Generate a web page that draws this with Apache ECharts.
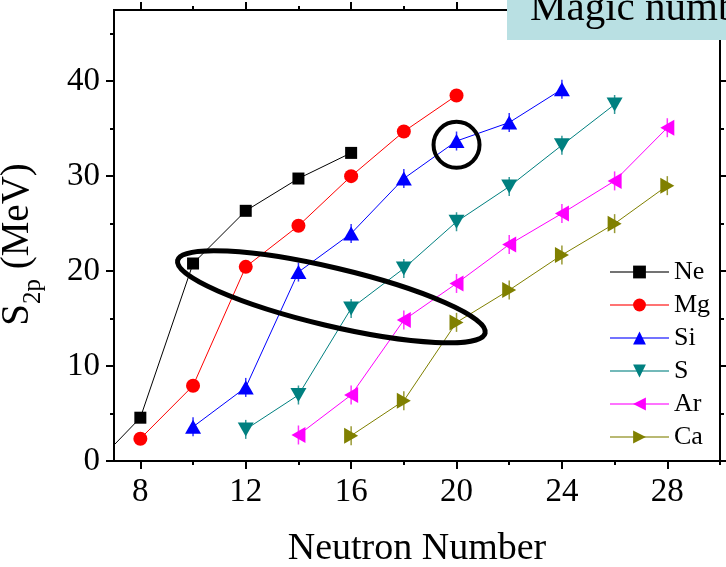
<!DOCTYPE html>
<html>
<head>
<meta charset="utf-8">
<script src="https://cdn.jsdelivr.net/npm/echarts@6/dist/echarts.min.js"></script>
<style>
  html, body { margin: 0; padding: 0; background: #fff; }
  #chart { width: 726px; height: 567px; }
</style>
</head>
<body>
<div id="chart"></div>
<script>
// Two-proton separation energies along isotonic chains
const neN  = [6, 8, 10, 12, 14, 16];
const neS2p = [-1.2, 4.56, 20.8, 26.35, 29.75, 32.45];

const mgN  = [8, 10, 12, 14, 16, 18, 20];
const mgS2p = [2.35, 7.93, 20.45, 24.77, 30.0, 34.7, 38.5];

const siN  = [10, 12, 14, 16, 18, 20, 22, 24];
const siS2p = [3.6, 7.75, 19.9, 23.96, 29.75, 33.7, 35.65, 39.15];

const sN   = [12, 14, 16, 18, 20, 22, 24, 26];
const sS2p = [3.33, 6.95, 16.07, 20.28, 25.2, 28.9, 33.26, 37.55];

const arN  = [14, 16, 18, 20, 22, 24, 26, 28];
const arS2p = [2.74, 6.95, 14.84, 18.7, 22.8, 26.07, 29.5, 35.1];

const caN  = [16, 18, 20, 22, 24, 26, 28];
const caS2p = [2.67, 6.35, 14.6, 18.0, 21.7, 25.0, 29.0];

// Axis ticks
const xMajorTicks = [8, 12, 16, 20, 24, 28];
const xMinorTicks = [10, 14, 18, 22, 26, 30];
const yMajorTicks = [0, 10, 20, 30, 40];
const yMinorTicks = [5, 15, 25, 35, 45];

// Highlight annotations, in (N, S2p) coordinates
const bandCenter = [15.25, 17.3];
const magicPoint = [20, 33.3];

const SERIF = "'Liberation Serif', 'Times New Roman', serif";

function pairs(xs, ys) { return xs.map((x, i) => [x, ys[i]]); }

const chart = echarts.init(document.getElementById('chart'), null, { renderer: 'canvas' });

const frameLine = { color: '#000', width: 2 };

function xAxisDef(position, ticks, len, withLabels) {
  const ax = {
    type: 'value', position: position, min: 7, max: 30,
    axisLine: { show: true, onZero: false, lineStyle: frameLine },
    axisTick: { show: true, inside: false, length: len, customValues: ticks, lineStyle: { color: '#000', width: 2 } },
    axisLabel: { show: withLabels, customValues: ticks, fontSize: 33, fontFamily: SERIF, color: '#000', margin: 15 },
    splitLine: { show: false }
  };
  if (withLabels) {
    ax.name = 'Neutron Number';
    ax.nameLocation = 'middle';
    ax.nameGap = 69;
    ax.nameTextStyle = { fontSize: 38, fontFamily: SERIF, color: '#000' };
  }
  return ax;
}

function yAxisDef(position, ticks, len, withLabels) {
  const ax = {
    type: 'value', position: position, min: 0, max: 47.5,
    axisLine: { show: true, onZero: false, lineStyle: frameLine },
    axisTick: { show: true, inside: false, length: len, customValues: ticks, lineStyle: { color: '#000', width: 2 } },
    axisLabel: { show: withLabels, customValues: ticks, fontSize: 33, fontFamily: SERIF, color: '#000', margin: 14 },
    splitLine: { show: false }
  };
  if (withLabels) {
    ax.name = '{m|S}{sub|2p}{m| (MeV)}';
    ax.nameLocation = 'middle';
    ax.nameGap = 68;
    ax.nameTextStyle = {
      fontFamily: SERIF, color: '#000',
      padding: [0, 18, 0, 0],
      rich: {
        m: { fontSize: 39, fontFamily: SERIF, color: '#000', lineHeight: 39, verticalAlign: 'bottom', padding: [0, 0, 9, 0] },
        sub: { fontSize: 25, fontFamily: SERIF, color: '#000', lineHeight: 25, verticalAlign: 'bottom' }
      }
    };
  }
  return ax;
}

function lineSeries(name, xs, ys, color, symbol, size, rotate) {
  return {
    name: name, type: 'line', data: pairs(xs, ys),
    xAxisIndex: 0, yAxisIndex: 0,
    symbol: symbol, symbolSize: size, symbolRotate: rotate || 0,
    showAllSymbol: true, clip: true,
    lineStyle: { color: color, width: 1 },
    itemStyle: { color: color, borderWidth: 0 },
    emphasis: { disabled: true },
    z: 3
  };
}

// thin vertical bars behind each triangle marker
function barMarks(xs, ys, color) {
  return {
    type: 'scatter', data: pairs(xs, ys), xAxisIndex: 0, yAxisIndex: 0,
    symbol: 'rect', symbolSize: [1.5, 19], itemStyle: { color: color },
    silent: true, z: 2, clip: true
  };
}

const option = {
  animation: false,
  backgroundColor: '#fff',
  grid: { left: 114, right: 6, top: 10, bottom: 106, containLabel: false, outerBoundsMode: 'none' },
  xAxis: [
    xAxisDef('bottom', xMajorTicks, 8, true),
    xAxisDef('bottom', xMinorTicks, 4, false),
    xAxisDef('top', xMajorTicks, 8, false),
    xAxisDef('top', xMinorTicks, 4, false)
  ],
  yAxis: [
    yAxisDef('left', yMajorTicks, 8, true),
    yAxisDef('left', yMinorTicks, 4, false),
    yAxisDef('right', yMajorTicks, 8, false),
    yAxisDef('right', yMinorTicks, 4, false)
  ],
  legend: {
    orient: 'vertical', left: 609, top: 259, padding: 0,
    itemWidth: 59, itemHeight: 16, itemGap: 7,
    selectedMode: false,
    lineStyle: { width: 2, opacity: 0.55 },
    textStyle: { fontSize: 26, fontFamily: SERIF, color: '#000', lineHeight: 26 },
    data: ['Ne', 'Mg', 'Si', 'S', 'Ar', 'Ca']
  },
  series: [
    barMarks(siN, siS2p, '#0000FF'),
    barMarks(sN, sS2p, '#008080'),
    barMarks(arN, arS2p, '#FF00FF'),
    barMarks(caN, caS2p, '#808000'),
    lineSeries('Ne', neN, neS2p, '#000000', 'rect', 12),
    lineSeries('Mg', mgN, mgS2p, '#FF0000', 'circle', 14),
    lineSeries('Si', siN, siS2p, '#0000FF', 'triangle', [16, 14]),
    lineSeries('S', sN, sS2p, '#008080', 'triangle', [16, 14], 180),
    lineSeries('Ar', arN, arS2p, '#FF00FF', 'triangle', [16, 14], 90),
    lineSeries('Ca', caN, caS2p, '#808000', 'triangle', [16, 14], -90)
  ]
};

chart.setOption(option);

const bandPx = chart.convertToPixel({ xAxisIndex: 0, yAxisIndex: 0 }, bandCenter);
const magicPx = chart.convertToPixel({ xAxisIndex: 0, yAxisIndex: 0 }, magicPoint);

chart.setOption({
  graphic: [
    {
      type: 'ellipse', x: bandPx[0], y: bandPx[1], rotation: -13.3 * Math.PI / 180,
      shape: { cx: 0, cy: 0, rx: 158, ry: 29 },
      style: { fill: 'none', stroke: '#000', lineWidth: 5 }, z: 50, silent: true
    },
    {
      type: 'circle', shape: { cx: magicPx[0], cy: magicPx[1], r: 23 },
      style: { fill: 'none', stroke: '#000', lineWidth: 4 }, z: 50, silent: true
    },
    {
      type: 'rect', shape: { x: 507, y: 0, width: 219, height: 40 },
      style: { fill: '#B9E0E3' }, z: 100, silent: true
    },
    {
      type: 'text', x: 530, y: 9, z: 101, silent: true,
      style: { text: 'Magic numbers', font: "41px 'Liberation Serif', 'Times New Roman', serif", fill: '#000', verticalAlign: 'middle' }
    }
  ]
});
</script>
</body>
</html>
